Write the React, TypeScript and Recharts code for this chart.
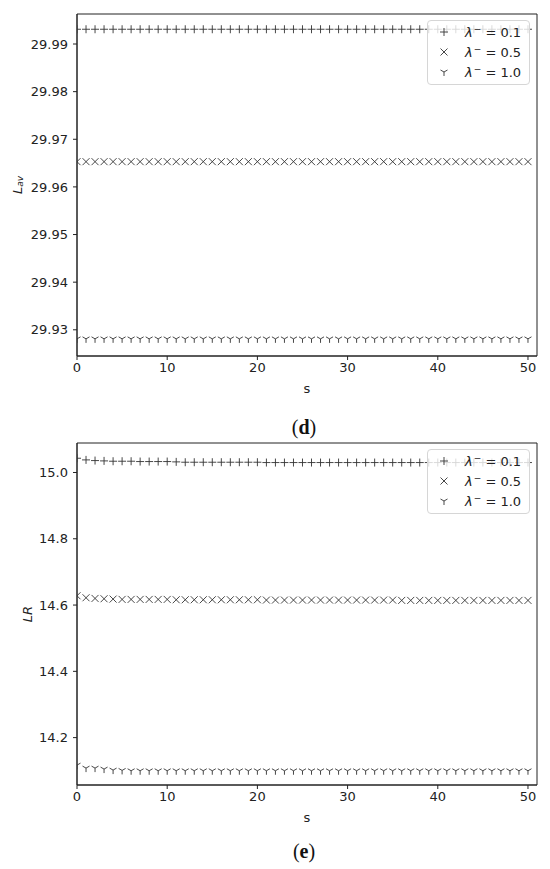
import React from 'react';
import { ScatterChart, Scatter, XAxis, YAxis, ReferenceArea, Legend } from 'recharts';

const FONT = '"DejaVu Sans", sans-serif';
const INK = '#222';
const MARK = '#333';

// s = 0 .. 50
const S = [
  0, 1, 2, 3, 4, 5, 6, 7, 8, 9, 10, 11, 12, 13, 14, 15, 16, 17, 18, 19, 20, 21, 22, 23, 24, 25,
  26, 27, 28, 29, 30, 31, 32, 33, 34, 35, 36, 37, 38, 39, 40, 41, 42, 43, 44, 45, 46, 47, 48, 49, 50,
];
const X_TICKS = [0, 10, 20, 30, 40, 50];

// panel (d): L_av
const LAV_01 = [
  29.9931, 29.9931, 29.9931, 29.9931, 29.9931, 29.9931, 29.9931, 29.9931, 29.9931, 29.9931,
  29.9931, 29.9931, 29.9931, 29.9931, 29.9931, 29.9931, 29.9931, 29.9931, 29.9931, 29.9931,
  29.9931, 29.9931, 29.9931, 29.9931, 29.9931, 29.9931, 29.9931, 29.9931, 29.9931, 29.9931,
  29.9931, 29.9931, 29.9931, 29.9931, 29.9931, 29.9931, 29.9931, 29.9931, 29.9931, 29.9931,
  29.9931, 29.9931, 29.9931, 29.9931, 29.9931, 29.9931, 29.9931, 29.9931, 29.9931, 29.9931,
  29.9931,
];
const LAV_05 = [
  29.9653, 29.9653, 29.9653, 29.9653, 29.9653, 29.9653, 29.9653, 29.9653, 29.9653, 29.9653,
  29.9653, 29.9653, 29.9653, 29.9653, 29.9653, 29.9653, 29.9653, 29.9653, 29.9653, 29.9653,
  29.9653, 29.9653, 29.9653, 29.9653, 29.9653, 29.9653, 29.9653, 29.9653, 29.9653, 29.9653,
  29.9653, 29.9653, 29.9653, 29.9653, 29.9653, 29.9653, 29.9653, 29.9653, 29.9653, 29.9653,
  29.9653, 29.9653, 29.9653, 29.9653, 29.9653, 29.9653, 29.9653, 29.9653, 29.9653, 29.9653,
  29.9653,
];
const LAV_10 = [
  29.9281, 29.9281, 29.9281, 29.9281, 29.9281, 29.9281, 29.9281, 29.9281, 29.9281, 29.9281,
  29.9281, 29.9281, 29.9281, 29.9281, 29.9281, 29.9281, 29.9281, 29.9281, 29.9281, 29.9281,
  29.9281, 29.9281, 29.9281, 29.9281, 29.9281, 29.9281, 29.9281, 29.9281, 29.9281, 29.9281,
  29.9281, 29.9281, 29.9281, 29.9281, 29.9281, 29.9281, 29.9281, 29.9281, 29.9281, 29.9281,
  29.9281, 29.9281, 29.9281, 29.9281, 29.9281, 29.9281, 29.9281, 29.9281, 29.9281, 29.9281,
  29.9281,
];
const LAV_TICKS = [29.93, 29.94, 29.95, 29.96, 29.97, 29.98, 29.99];

// panel (e): LR
const LR_01 = [
  15.043, 15.038, 15.036, 15.035, 15.034, 15.034, 15.034, 15.033, 15.033, 15.033,
  15.033, 15.032, 15.031, 15.031, 15.031, 15.031, 15.031, 15.031, 15.031, 15.031,
  15.031, 15.030, 15.030, 15.030, 15.030, 15.030, 15.030, 15.030, 15.030, 15.030,
  15.030, 15.030, 15.030, 15.030, 15.030, 15.030, 15.030, 15.030, 15.030, 15.030,
  15.030, 15.030, 15.030, 15.030, 15.030, 15.030, 15.030, 15.030, 15.030, 15.030,
  15.030,
];
const LR_05 = [
  14.628, 14.622, 14.620, 14.619, 14.618, 14.617, 14.617, 14.617, 14.617, 14.617,
  14.617, 14.616, 14.616, 14.616, 14.616, 14.616, 14.616, 14.616, 14.616, 14.616,
  14.616, 14.615, 14.615, 14.615, 14.615, 14.615, 14.615, 14.615, 14.615, 14.615,
  14.615, 14.615, 14.615, 14.615, 14.615, 14.615, 14.614, 14.614, 14.614, 14.614,
  14.614, 14.614, 14.614, 14.614, 14.614, 14.614, 14.614, 14.614, 14.614, 14.614,
  14.614,
];
const LR_10 = [
  14.117, 14.108, 14.108, 14.105, 14.102, 14.101, 14.100, 14.100, 14.100, 14.100,
  14.100, 14.100, 14.100, 14.100, 14.100, 14.100, 14.100, 14.100, 14.100, 14.100,
  14.100, 14.100, 14.100, 14.100, 14.100, 14.100, 14.100, 14.100, 14.100, 14.100,
  14.100, 14.100, 14.100, 14.100, 14.100, 14.100, 14.100, 14.100, 14.100, 14.100,
  14.100, 14.100, 14.100, 14.100, 14.100, 14.100, 14.100, 14.100, 14.100, 14.100,
  14.100,
];
const LR_TICKS = [14.2, 14.4, 14.6, 14.8, 15.0];

const LAMBDAS = ['0.1', '0.5', '1.0'];

type Kind = 'plus' | 'x' | 'tri';
const KINDS: Kind[] = ['plus', 'x', 'tri'];

function Marker({ cx, cy, kind }: { cx: number; cy: number; kind: Kind }) {
  if (kind === 'plus') {
    return (
      <g stroke={MARK} strokeWidth={0.9}>
        <line x1={cx - 4} y1={cy} x2={cx + 4} y2={cy} />
        <line x1={cx} y1={cy - 4} x2={cx} y2={cy + 4} />
      </g>
    );
  }
  if (kind === 'x') {
    return (
      <g stroke={MARK} strokeWidth={0.9}>
        <line x1={cx - 3.5} y1={cy - 3.5} x2={cx + 3.5} y2={cy + 3.5} />
        <line x1={cx - 3.5} y1={cy + 3.5} x2={cx + 3.5} y2={cy - 3.5} />
      </g>
    );
  }
  return (
    <g stroke={MARK} strokeWidth={0.9}>
      <line x1={cx} y1={cy} x2={cx} y2={cy + 4} />
      <line x1={cx} y1={cy} x2={cx - 3.5} y2={cy - 2} />
      <line x1={cx} y1={cy} x2={cx + 3.5} y2={cy - 2} />
    </g>
  );
}

const toPoints = (vals: number[]) => S.map((s, i) => ({ s, y: vals[i] }));

function LegendBox() {
  return (
    <div
      style={{
        boxSizing: 'border-box',
        width: 103,
        height: 65,
        border: '1px solid #d6d6d6',
        borderRadius: 4,
        background: 'rgba(255,255,255,0.8)',
        paddingTop: 1,
        fontFamily: FONT,
        fontSize: 13,
        color: INK,
      }}
    >
      {LAMBDAS.map((lam, i) => (
        <div key={lam} style={{ height: 20, display: 'flex', alignItems: 'center' }}>
          <svg width={32} height={20}>
            <Marker cx={16} cy={10} kind={KINDS[i]} />
          </svg>
          <span style={{ marginLeft: 5, whiteSpace: 'nowrap', lineHeight: 1 }}>
            <span style={{ fontStyle: 'italic' }}>λ</span>
            <span style={{ fontSize: 9, position: 'relative', top: -5, marginLeft: 1 }}>−</span>
            {' = ' + lam}
          </span>
        </div>
      ))}
    </div>
  );
}

interface PanelProps {
  series: number[][];
  yDomain: [number, number];
  yTicks: number[];
  digits: number;
  yLabel: React.ReactNode;
  yLabelX: number;
}

function Panel({ series, yDomain, yTicks, digits, yLabel, yLabelX }: PanelProps) {
  return (
    <ScatterChart width={550} height={400} margin={{ top: 14, right: 13, bottom: 14, left: 17 }}>
      <defs>
        <clipPath id={`plot-${digits}`}>
          <rect x={77} y={14} width={460} height={342} />
        </clipPath>
      </defs>
      <XAxis
        type="number"
        dataKey="s"
        domain={[0, 51]}
        ticks={X_TICKS}
        allowDataOverflow
        height={30}
        tickSize={4}
        tickMargin={3}
        stroke={INK}
        tick={{ fill: INK, fontSize: 13, fontFamily: FONT }}
        label={{
          content: (p: any) => {
            const vb = p.viewBox || {};
            return (
              <text
                x={vb.x + vb.width / 2}
                y={vb.y + 32}
                textAnchor="middle"
                dominantBaseline="central"
                fill={INK}
                fontSize={13}
                fontFamily={FONT}
              >
                s
              </text>
            );
          },
        }}
      />
      <YAxis
        type="number"
        dataKey="y"
        domain={yDomain}
        ticks={yTicks}
        allowDataOverflow
        width={60}
        tickSize={4}
        tickMargin={5}
        stroke={INK}
        tickFormatter={(v: number) => v.toFixed(digits)}
        tick={{ fill: INK, fontSize: 13, fontFamily: FONT }}
        label={{
          content: (p: any) => {
            const vb = p.viewBox || {};
            const cy = vb.y + vb.height / 2;
            return (
              <text
                x={yLabelX}
                y={cy}
                transform={`rotate(-90 ${yLabelX} ${cy})`}
                textAnchor="middle"
                dominantBaseline="central"
                fill={INK}
                fontSize={13}
                fontFamily={FONT}
              >
                {yLabel}
              </text>
            );
          },
        }}
      />
      <ReferenceArea
        x1={0}
        x2={51}
        y1={yDomain[0]}
        y2={yDomain[1]}
        fill="none"
        fillOpacity={0}
        stroke={INK}
        strokeWidth={1}
      />
      {series.map((vals, i) => (
        <Scatter
          key={LAMBDAS[i]}
          name={'λ− = ' + LAMBDAS[i]}
          data={toPoints(vals)}
          isAnimationActive={false}
          shape={(p: any) => (
            <g clipPath={`url(#plot-${digits})`}>
              <Marker cx={p.cx} cy={p.cy} kind={KINDS[i]} />
            </g>
          )}
        />
      ))}
      <Legend
        layout="vertical"
        align="center"
        verticalAlign="middle"
        wrapperStyle={{ top: 20, left: 427, width: 103, height: 65 }}
        content={() => <LegendBox />}
      />
    </ScatterChart>
  );
}

const panelTag = (letter: string, top: number) => (
  <div
    style={{
      position: 'absolute',
      top,
      left: 0,
      width: 608,
      textAlign: 'center',
      fontFamily: '"Liberation Serif", serif',
      fontSize: 20,
      color: '#111',
      lineHeight: '22px',
    }}
  >
    (<b>{letter}</b>)
  </div>
);

export default function App() {
  return (
    <div style={{ position: 'absolute', left: 0, top: 0, width: 550, height: 869, background: '#fff' }}>
      <div style={{ position: 'absolute', left: 0, top: 0 }}>
        <Panel
          series={[LAV_01, LAV_05, LAV_10]}
          yDomain={[29.9245, 29.9963]}
          yTicks={LAV_TICKS}
          digits={2}
          yLabelX={17}
          yLabel={
            <>
              <tspan fontStyle="italic">L</tspan>
              <tspan fontStyle="italic" fontSize={9} dy={3}>av</tspan>
            </>
          }
        />
      </div>
      {panelTag('d', 416)}
      <div style={{ position: 'absolute', left: 0, top: 429 }}>
        <Panel
          series={[LR_01, LR_05, LR_10]}
          yDomain={[14.057, 15.089]}
          yTicks={LR_TICKS}
          digits={1}
          yLabelX={27}
          yLabel={<tspan fontStyle="italic">LR</tspan>}
        />
      </div>
      {panelTag('e', 840)}
    </div>
  );
}
